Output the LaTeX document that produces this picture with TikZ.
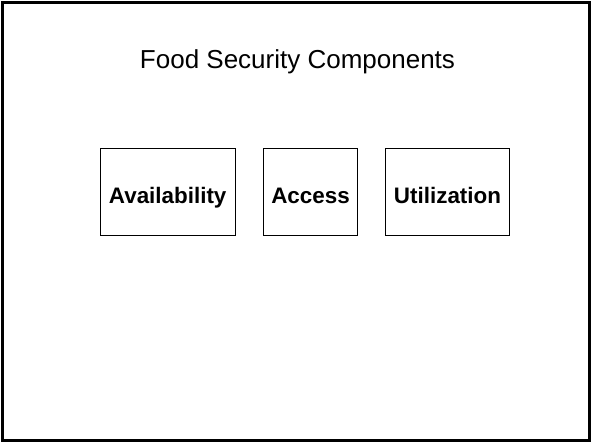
\documentclass[tikz,border=0pt]{standalone}
\usepackage{fontspec}
\setmainfont{Liberation Sans}
\begin{document}
\begin{tikzpicture}[x=1pt,y=-1pt,
  compbox/.style={draw=black,line width=1pt,fill=white,inner sep=0pt},
  complabel/.style={font=\fontsize{22.4}{26}\selectfont\bfseries,anchor=base}]
\useasboundingbox (0,0) rectangle (592,443);
\fill[white] (0,0) rectangle (592,443);
\draw[line width=2.5pt] (2.5,2.5) rectangle (589.5,440.5);
\node[font=\fontsize{26}{30}\selectfont,anchor=base] (title) at (297.5,68.3) {Food Security Components};
\node[compbox,minimum width=135.3pt,minimum height=86.5pt] (avail) at (167.7,192.2) {};
\node[compbox,minimum width=94.4pt,minimum height=86.5pt] (access) at (310.5,192.2) {};
\node[compbox,minimum width=123.6pt,minimum height=86.5pt] (util) at (447.5,192.2) {};
\node[complabel] (availt) at (avail.center |- 0,203.3) {Availability};
\node[complabel] (accesst) at (access.center |- 0,203.3) {Access};
\node[complabel] (utilt) at (util.center |- 0,203.3) {Utilization};
\end{tikzpicture}
\end{document}
